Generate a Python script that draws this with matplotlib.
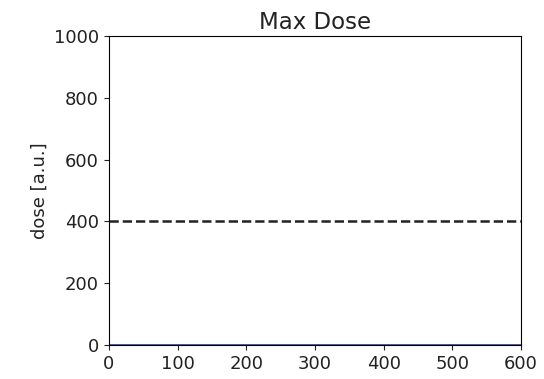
import numpy as np
import matplotlib
matplotlib.use("Agg")
import matplotlib.pyplot as plt

# time points and doses
t = [0, 600]
max_dose = [0, 0]
limit = [400, 400]

plt.rcParams['font.size'] = 13
fig = plt.figure(figsize=(5.44, 3.79), dpi=100)
ax = fig.add_axes([0.200, 0.090, 0.758, 0.815])
ax.plot(t, max_dose, color='#2b2a6b', lw=1.8)
ax.plot(t, limit, 'k--', lw=1.8, color='#222222')
ax.set_xlim(0, 600)
ax.set_ylim(0, 1000)
ax.set_xticks([0, 100, 200, 300, 400, 500, 600])
ax.set_yticks([0, 200, 400, 600, 800, 1000])
ax.tick_params(labelsize=13, colors='#222222')
ax.set_title('Max Dose', fontsize=16.5, color='#222222', pad=5)
ax.set_ylabel('dose [a.u.]', fontsize=13, color='#222222')
fig.savefig('out.png', dpi=100)
